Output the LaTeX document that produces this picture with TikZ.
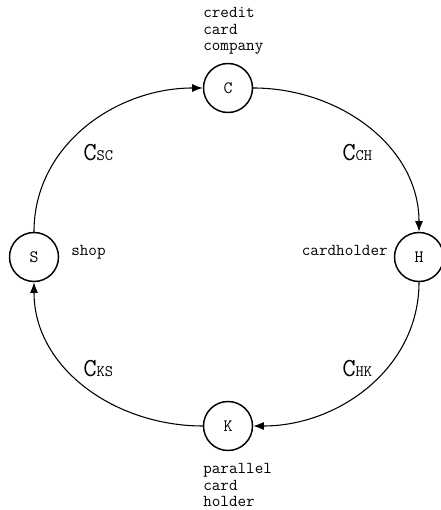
\documentclass[tikz,border=0pt]{standalone}
\usetikzlibrary{positioning}
\usetikzlibrary{arrows.meta}

\newcommand{\chan}[1]{{\fontsize{19.5}{19.5}\selectfont C}{\fontsize{12}{12}\selectfont #1}}

\begin{document}
\begin{tikzpicture}[x=0.75pt,y=0.75pt,
  party/.style={circle,draw,line width=1.1pt,minimum size=36.75pt,inner sep=0pt,font=\ttfamily\fontsize{13}{13}\selectfont},
  role/.style={inner sep=0pt,align=left,font=\ttfamily\fontsize{12.5}{12.5}\selectfont},
  chanlbl/.style={inner sep=0pt,font=\ttfamily},
  flow/.style={line width=0.8pt,-{Latex[length=8pt,width=6pt]}}]
 \useasboundingbox (0,0) rectangle (440,510);
 \node[party] (C) at (228,422) {C};
 \node[party] (H) at (419,253) {H};
 \node[party] (K) at (228,84) {K};
 \node[party] (S) at (34,253) {S};
 \node[role,anchor=north west] (company) at (203,503) {credit\\card\\company};
 \node[role,anchor=north west] (parallel) at (203,47) {parallel\\card\\holder};
 \node[role,anchor=base west] (shop) at (71,254) {shop};
 \node[role,anchor=base east] (holder) at (388,254) {cardholder};
 \draw[flow] (C) to[out=0,in=90] (H);
 \draw[flow] (H) to[out=-90,in=0] (K);
 \draw[flow] (K) to[out=180,in=-90] (S);
 \draw[flow] (S) to[out=90,in=180] (C);
 \node[chanlbl,anchor=base west] (csc) at (83,349) {\chan{SC}};
 \node[chanlbl,anchor=base west] (cch) at (342,349) {\chan{CH}};
 \node[chanlbl,anchor=base west] (cks) at (83,133) {\chan{KS}};
 \node[chanlbl,anchor=base west] (chk) at (342,133) {\chan{HK}};
\end{tikzpicture}
\end{document}
